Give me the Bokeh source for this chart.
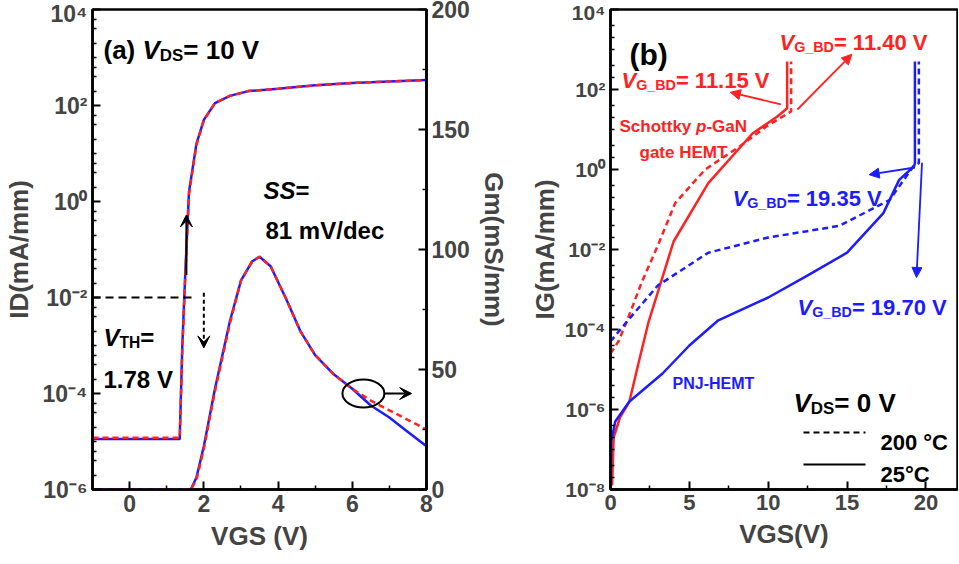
import math
from bokeh.plotting import figure
from bokeh.models import (Range1d, LinearAxis, LinearScale, FixedTicker, Label, Arrow, VeeHead, NormalHead)
from bokeh.layouts import row
from bokeh.embed import file_html
from bokeh.resources import INLINE

RED = "#ff2222"
BLUE = "#1c1cff"
FONT = "Liberation Sans"

# ---------- data panel (a) ----------
vgs_id = [-1, 1.35, 1.42, 1.5, 1.6, 1.8, 2.0, 2.3, 2.7, 3.2, 4, 5, 6, 7, 8]
log_id_25 = [-4.95, -4.95, -3.0, -1.5, 0.2, 1.2, 1.7, 2.05, 2.2, 2.3, 2.35, 2.42, 2.47, 2.5, 2.53]
log_id_200 = [-4.92, -4.92, -3.1, -1.55, 0.15, 1.18, 1.69, 2.05, 2.2, 2.3, 2.35, 2.42, 2.47, 2.5, 2.53]
vgs_gm = [-1, 1.65, 1.8, 2.0, 2.3, 2.7, 3.0, 3.3, 3.5, 3.8, 4.2, 4.6, 5.0, 5.5, 6.0, 6.5, 7.0, 7.5, 8.0]
gm_25 = [0, 0, 5, 18, 42, 70, 87, 95, 97, 93, 80, 66, 56, 48, 42, 35, 30, 24, 18]
gm_200 = [0, 0, 4, 17, 41, 69, 87, 95, 97, 93, 80, 66, 56, 48, 42, 37, 33, 29, 25]

# ---------- data panel (b) ----------
v_sch_25 = [0.1, 0.2, 0.6, 1.2, 1.8, 2.4, 4.0, 6.2, 9.0, 10.6, 11.2, 11.2]
log_sch_25 = [-7.9, -6.7, -6.2, -5.8, -4.8, -3.83, -1.8, -0.34, 0.9, 1.33, 1.53, 2.7]
v_sch_200 = [0.0, 0.5, 1.0, 2.0, 3.0, 4.1, 6.0, 8.2, 9.9, 11.45, 11.45]
log_sch_200 = [-4.6, -4.3, -3.83, -2.8, -1.9, -0.84, 0.0, 0.58, 1.08, 1.45, 2.7]
v_pnj_25 = [0.0, 0.05, 0.3, 1.2, 3.3, 5.0, 6.8, 10.0, 12.45, 15.0, 17.3, 18.3, 19.25, 19.3, 19.3]
log_pnj_25 = [-8.0, -6.8, -6.3, -5.8, -5.1, -4.4, -3.78, -3.2, -2.66, -2.08, -1.09, -0.26, 0.08, 0.16, 2.7]
v_pnj_200 = [0.0, 1.13, 3.0, 6.2, 10.0, 14.5, 17.7, 19.2, 19.55, 19.55]
log_pnj_200 = [-4.3, -3.76, -2.9, -2.08, -1.7, -1.41, -0.76, 0.08, 0.16, 2.7]


def ex(vals):
    return [10 ** v for v in vals]


SUP = str.maketrans("-0123456789", "⁻⁰¹²³⁴⁵⁶⁷⁸⁹")

W = {'A': .722, 'B': .722, 'C': .722, 'D': .722, 'E': .667, 'G': .778, 'H': .722, 'I': .278, 'M': .833,
     'N': .722, 'O': .778, 'S': .667, 'T': .611, 'V': .667, 'P': .667, 'J': .556, 'R': .722,
     'a': .556, 'b': .611, 'c': .556, 'd': .611, 'e': .556, 'h': .611, 'k': .556, 'm': .889, 'n': .611,
     'o': .611, 'p': .611, 't': .333, 'y': .556, 'v': .556, ' ': .278, '.': .278, '=': .584, '(': .333,
     ')': .333, '/': .278, '-': .333, '_': .556, '°': .4}


def tw(s, size):
    return sum(W.get(c, .556) for c in s) * size


def rich(p, conv, x0, y0, parts, size, color="black", angle=0.0):
    pos = 0.0
    for text, kind in parts:
        s = size * 0.65 if kind in ("sub", "sup") else size
        shift = 0.0
        if kind == "sub":
            shift = 0.22 * size
        elif kind == "sup":
            shift = -0.42 * size
        if angle == 0:
            px, py = x0 + pos, y0 + shift
        else:
            px, py = x0 + shift, y0 - pos
        x, y = conv(px, py)
        p.add_layout(Label(x=x, y=y, text=text, text_font=FONT, text_font_size=f"{s:.1f}px",
                           text_font_style="bold italic" if kind == "i" else "bold",
                           text_color=color, angle=angle, text_baseline="alphabetic",
                           text_align="left"))
        pos += tw(text, s)


def style(p, xticks, xminor, yticks, yminor, ylabels):
    p.grid.visible = False
    p.outline_line_color = "black"
    p.outline_line_width = 2.5
    for ax in p.axis:
        ax.axis_line_width = 2.5
        ax.major_tick_line_width = 2
        ax.minor_tick_line_width = 1.5
        ax.major_tick_in = 8
        ax.major_tick_out = 0
        ax.minor_tick_in = 4
        ax.minor_tick_out = 0
        ax.major_label_text_font = FONT
        ax.major_label_text_font_style = "bold"
        ax.axis_label_text_font = FONT
        ax.axis_label_text_font_style = "bold"
        ax.axis_label_text_font_size = "26px"
        ax.axis_label_standoff = 6
    p.xaxis.ticker = FixedTicker(ticks=xticks, minor_ticks=xminor)
    p.xaxis.major_label_text_font_size = "23px"
    p.yaxis.ticker = FixedTicker(ticks=yticks, minor_ticks=yminor)
    p.yaxis.major_label_overrides = ylabels
    p.yaxis.major_label_text_font_size = "23px"


# ================= panel (a) =================
pa = figure(frame_width=334, frame_height=480, x_range=Range1d(-1, 8), y_range=Range1d(1e-6, 1e4),
            y_axis_type="log", output_backend="svg", toolbar_location=None,
            min_border_left=81, min_border_right=100, min_border_top=9, min_border_bottom=59)
pa.extra_y_ranges = {"gm": Range1d(0, 200)}
pa.extra_y_scales = {"gm": LinearScale()}
ra = LinearAxis(y_range_name="gm", axis_label="Gm(mS/mm)")
pa.add_layout(ra, "right")
yt_a = [1e-6, 1e-4, 1e-2, 1, 1e2, 1e4]
style(pa, [0, 2, 4, 6, 8], [-1, 1, 3, 5, 7], yt_a,
      [10 ** (k + f) for k in range(-6, 4) for f in (0.3, 0.6, 0.8)] + [1e-5, 1e-3, 1e-1, 10, 1e3],
      {t: "10" + str(int(round(math.log10(t)))).translate(SUP) for t in yt_a})
ra.ticker = FixedTicker(ticks=[0, 50, 100, 150, 200], minor_ticks=[25, 75, 125, 175])
ra.major_label_overrides = {}
ra.major_label_text_font_size = "23px"
pa.yaxis[0].axis_label = "ID(mA/mm)"
pa.xaxis.axis_label = "VGS (V)"

pa.line(vgs_id, ex(log_id_25), color=BLUE, line_width=2.5)
pa.line(vgs_id, ex(log_id_200), color=RED, line_width=2.5, line_dash="6 4")
pa.line(vgs_gm, gm_25, color=BLUE, line_width=2.5, y_range_name="gm")
pa.line(vgs_gm, gm_200, color=RED, line_width=2.5, line_dash="6 4", y_range_name="gm")

pa.line([-1, 1.72], [1e-2, 1e-2], color="black", line_width=2, line_dash="8 5")
pa.add_layout(Arrow(end=VeeHead(size=12, fill_color="black", line_color="black"),
                    x_start=1.53, y_start=10 ** -1.53, x_end=1.53, y_end=10 ** -0.28,
                    line_width=2))
pa.add_layout(Arrow(end=VeeHead(size=12, fill_color="black", line_color="black"),
                    x_start=2.0, y_start=10 ** -1.9, x_end=2.0, y_end=10 ** -3.05,
                    line_width=2, line_dash="4 3"))
pa.ellipse(x=6.3, y=40, width=1.13, height=11.6, fill_color=None, line_color="black",
           line_width=2, y_range_name="gm")
pa.add_layout(Arrow(end=VeeHead(size=12, fill_color="black", line_color="black"),
                    x_start=6.85, y_start=40, x_end=7.6, y_end=40, y_range_name="gm", line_width=2))


def conv_a(px, py):
    return -1 + (px - 89) * 9 / 334, 10 ** (4 - (py - 17) * 10 / 480)


rich(pa, conv_a, 100, 57, [("(a) ", "n"), ("V", "i"), ("DS", "sub"), ("= 10 V", "n")], 26)
rich(pa, conv_a, 100, 345, [("V", "i"), ("TH", "sub"), (" =", "n")], 24)
rich(pa, conv_a, 100, 387, [("1.78 V", "n")], 24)
rich(pa, conv_a, 260, 198, [("SS", "i"), (" =", "n")], 24)
rich(pa, conv_a, 262, 238, [("81 mV/dec", "n")], 24)

# ================= panel (b) =================
pb = figure(frame_width=347, frame_height=480, x_range=Range1d(0, 22), y_range=Range1d(1e-8, 1e4),
            y_axis_type="log", output_backend="svg", toolbar_location=None,
            min_border_left=80, min_border_right=1, min_border_top=9, min_border_bottom=59)
yt_b = [1e-8, 1e-6, 1e-4, 1e-2, 1, 1e2, 1e4]
style(pb, [0, 5, 10, 15, 20], [2.5, 7.5, 12.5, 17.5], yt_b,
      [10 ** k for k in range(-7, 4, 2)] + [10 ** (k + f) for k in range(-8, 4) for f in (0.3, 0.6)],
      {t: "10" + str(int(round(math.log10(t)))).translate(SUP) for t in yt_b})
pb.xaxis.major_label_text_font_size = "22px"
pb.yaxis.major_label_text_font_size = "21px"
pb.yaxis.axis_label = "IG(mA/mm)"
pb.yaxis.axis_label_standoff = 2
pb.xaxis.axis_label = "VGS(V)"

pb.line(v_sch_25, ex(log_sch_25), color=RED, line_width=2.5)
pb.line(v_sch_200, ex(log_sch_200), color=RED, line_width=2.5, line_dash="6 4")
pb.line(v_pnj_25, ex(log_pnj_25), color=BLUE, line_width=2.5)
pb.line(v_pnj_200, ex(log_pnj_200), color=BLUE, line_width=2.5, line_dash="6 4")


def conv_b(px, py):
    return (px - 603) * 22 / 347, 10 ** (4 - (py - 17) * 12 / 480)


def arr(p, x0, y0, x1, y1, color):
    p.add_layout(Arrow(end=NormalHead(size=10, fill_color=color, line_color=color),
                       x_start=x0, y_start=10 ** y0, x_end=x1, y_end=10 ** y1,
                       line_color=color, line_width=1.8))


arr(pb, 10.8, 1.63, 7.6, 1.93, RED)
arr(pb, 11.85, 1.5, 15.3, 2.88, RED)
arr(pb, 19.3, 0.05, 16.4, -0.13, BLUE)
arr(pb, 19.75, 0.17, 19.4, -2.7, BLUE)

lx0, _ = conv_b(796, 0)
lx1, _ = conv_b(858, 0)
_, ly1 = conv_b(0, 440)
_, ly2 = conv_b(0, 472)
pb.line([lx0, lx1], [ly1, ly1], color="black", line_width=2, line_dash="6 4")
pb.line([lx0, lx1], [ly2, ly2], color="black", line_width=2)

rich(pb, conv_b, 622, 62, [("(b)", "n")], 30)
rich(pb, conv_b, 772, 50, [("V", "i"), ("G_BD", "sub"), (" = 11.40 V", "n")], 22, RED)
rich(pb, conv_b, 614, 88, [("V", "i"), ("G_BD", "sub"), (" = 11.15 V", "n")], 22, RED)
rich(pb, conv_b, 612, 134, [("Schottky ", "n"), ("p", "i"), ("-GaN", "n")], 17, RED)
rich(pb, conv_b, 632, 160, [("gate HEMT", "n")], 17, RED)
rich(pb, conv_b, 725, 206, [("V", "i"), ("G_BD", "sub"), (" = 19.35 V", "n")], 22, BLUE)
rich(pb, conv_b, 790, 315, [("V", "i"), ("G_BD", "sub"), (" = 19.70 V", "n")], 22, BLUE)
rich(pb, conv_b, 665, 391, [("PNJ-HEMT", "n")], 16, BLUE)
rich(pb, conv_b, 786, 410, [("V", "i"), ("DS", "sub"), (" = 0 V", "n")], 26)
rich(pb, conv_b, 873, 450, [("200 °C", "n")], 22)
rich(pb, conv_b, 873, 482, [("25°C", "n")], 22)

layout = row(pa, pb)
open("out.html", "w").write(file_html(layout, INLINE))
